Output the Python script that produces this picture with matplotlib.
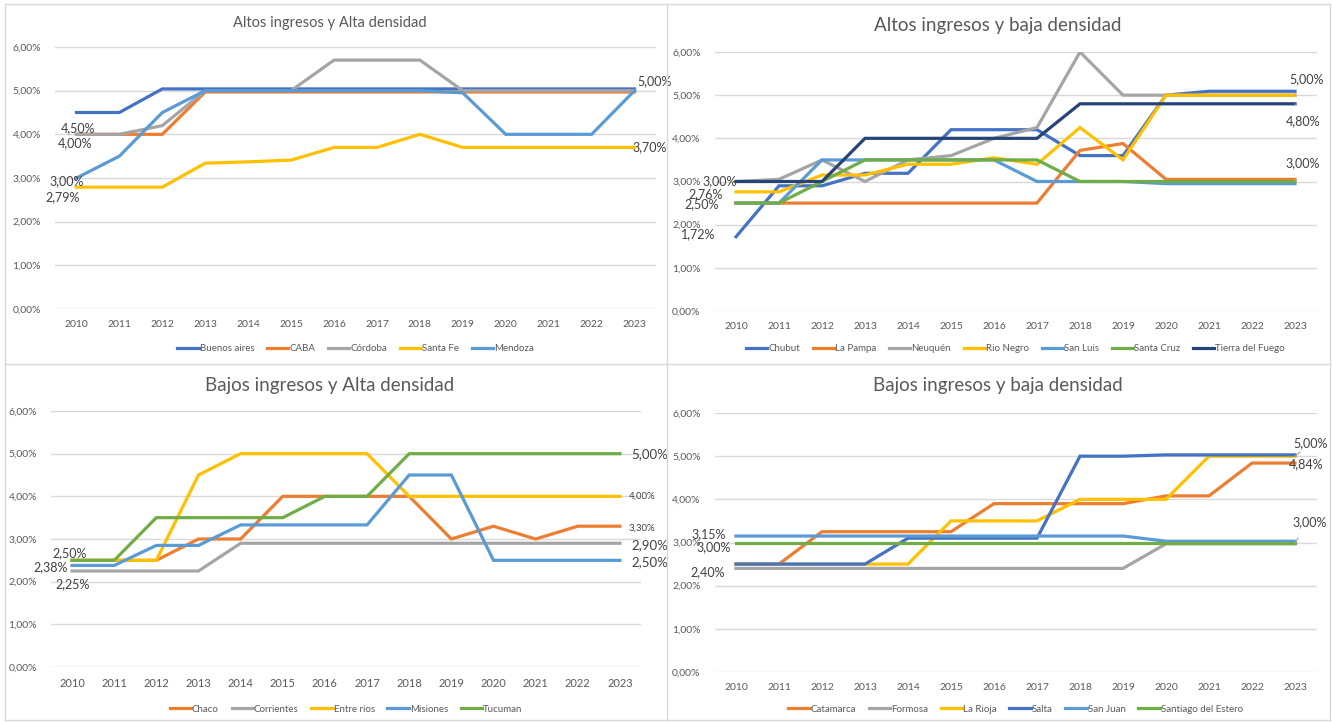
import numpy as np
import matplotlib
matplotlib.use('Agg')
import matplotlib.pyplot as plt
from matplotlib.lines import Line2D

plt.rcParams['font.family'] = ['Lato', 'DejaVu Sans']

years = [str(y) for y in range(2010, 2024)]
yticks = [0, 1, 2, 3, 4, 5, 6]

# --- Altos ingresos y Alta densidad
buenos_aires = [4.50, 4.50, 5.04, 5.04, 5.04, 5.04, 5.04, 5.04, 5.04, 5.04, 5.04, 5.04, 5.04, 5.04]
caba = [4.00, 4.00, 4.00, 4.97, 4.97, 4.97, 4.97, 4.97, 4.97, 4.97, 4.97, 4.97, 4.97, 4.97]
cordoba = [4.00, 4.00, 4.20, 5.00, 5.00, 5.00, 5.70, 5.70, 5.70, 5.00, 5.00, 5.00, 5.00, 5.00]
santa_fe = [2.79, 2.79, 2.79, 3.34, 3.37, 3.41, 3.70, 3.70, 4.00, 3.70, 3.70, 3.70, 3.70, 3.70]
mendoza = [3.00, 3.50, 4.50, 5.00, 5.00, 5.00, 5.00, 5.00, 5.00, 4.95, 4.00, 4.00, 4.00, 5.00]

# --- Altos ingresos y baja densidad
chubut = [1.72, 2.90, 2.90, 3.19, 3.19, 4.20, 4.20, 4.20, 3.60, 3.60, 5.00, 5.09, 5.09, 5.09]
la_pampa = [2.50, 2.50, 2.50, 2.50, 2.50, 2.50, 2.50, 2.50, 3.72, 3.88, 3.05, 3.05, 3.05, 3.05]
neuquen = [3.00, 3.05, 3.50, 3.00, 3.50, 3.60, 4.00, 4.25, 6.00, 5.00, 5.00, 5.00, 5.00, 5.00]
rio_negro = [2.76, 2.76, 3.15, 3.15, 3.40, 3.40, 3.55, 3.40, 4.25, 3.50, 5.00, 5.00, 5.00, 5.00]
san_luis = [2.50, 2.50, 3.50, 3.50, 3.50, 3.50, 3.50, 3.00, 3.00, 3.00, 2.95, 2.95, 2.95, 2.95]
santa_cruz = [2.50, 2.50, 3.00, 3.50, 3.50, 3.50, 3.50, 3.50, 3.00, 3.00, 3.00, 3.00, 3.00, 3.00]
tierra_fuego = [3.00, 3.00, 3.00, 4.00, 4.00, 4.00, 4.00, 4.00, 4.80, 4.80, 4.80, 4.80, 4.80, 4.80]

# --- Bajos ingresos y Alta densidad
chaco = [2.50, 2.50, 2.50, 3.00, 3.00, 4.00, 4.00, 4.00, 4.00, 3.00, 3.30, 3.00, 3.30, 3.30]
corrientes = [2.25, 2.25, 2.25, 2.25, 2.90, 2.90, 2.90, 2.90, 2.90, 2.90, 2.90, 2.90, 2.90, 2.90]
entre_rios = [2.50, 2.50, 2.50, 4.50, 5.00, 5.00, 5.00, 5.00, 4.00, 4.00, 4.00, 4.00, 4.00, 4.00]
misiones = [2.38, 2.38, 2.85, 2.85, 3.33, 3.33, 3.33, 3.33, 4.50, 4.50, 2.50, 2.50, 2.50, 2.50]
tucuman = [2.50, 2.50, 3.50, 3.50, 3.50, 3.50, 4.00, 4.00, 5.00, 5.00, 5.00, 5.00, 5.00, 5.00]

# --- Bajos ingresos y baja densidad
catamarca = [2.50, 2.50, 3.25, 3.25, 3.25, 3.25, 3.90, 3.90, 3.90, 3.90, 4.08, 4.08, 4.84, 4.84]
formosa = [2.40, 2.40, 2.40, 2.40, 2.40, 2.40, 2.40, 2.40, 2.40, 2.40, 2.97, 2.97, 2.97, 2.97]
la_rioja = [2.50, 2.50, 2.50, 2.50, 2.50, 3.50, 3.50, 3.50, 4.00, 4.00, 4.00, 5.00, 5.00, 5.00]
salta = [2.50, 2.50, 2.50, 2.50, 3.10, 3.10, 3.10, 3.10, 5.00, 5.00, 5.03, 5.03, 5.03, 5.03]
san_juan = [3.15, 3.15, 3.15, 3.15, 3.15, 3.15, 3.15, 3.15, 3.15, 3.15, 3.03, 3.03, 3.03, 3.03]
santiago = [3.00, 3.00, 3.00, 3.00, 3.00, 3.00, 3.00, 3.00, 3.00, 3.00, 3.00, 3.00, 3.00, 3.00]

BLUE, ORANGE, GRAY, GOLD = '#4472C4', '#ED7D31', '#A5A5A5', '#FFC000'
LBLUE, GREEN, NAVY = '#5B9BD5', '#70AD47', '#264478'
TXT = '#595959'
LBL = '#404040'

W, H = 1332, 722
fig = plt.figure(figsize=(W / 100, H / 100), dpi=100)


def px_axes(left, top, right, bottom):
    return fig.add_axes([left / W, 1 - bottom / H, (right - left) / W, (bottom - top) / H])


def pct(v):
    return f'{v:.2f}%'.replace('.', ',')


def panel(box, title, tsize, tpos, series, labels, legend_y, xsize=7.5):
    ax = px_axes(*box)
    x = np.arange(len(years))
    for name, vals, col in series:
        ax.plot(x, vals, color=col, lw=2.3, label=name, solid_joinstyle='miter')
    ax.set_xlim(-0.5, len(years) - 0.5)
    ax.set_ylim(0, 6)
    ax.set_yticks(yticks)
    ax.set_yticklabels([pct(v) for v in yticks])
    ax.set_xticks(x)
    ax.set_xticklabels(years)
    ax.tick_params(length=0, labelsize=7.5, colors=TXT, pad=8)
    ax.tick_params(axis='x', labelsize=xsize)
    ax.tick_params(axis='y', pad=10)
    ax.grid(axis='y', color='#D9D9D9', lw=1)
    ax.set_axisbelow(True)
    for s in ax.spines.values():
        s.set_visible(False)
    fig.text(tpos[0] / W, 1 - tpos[1] / H, title, fontsize=tsize, color=TXT,
             ha='center', va='center')
    for xi, val, dx, dy, fs, leader in labels:
        ax.annotate(pct(val), (xi, val), xytext=(dx, dy), textcoords='offset pixels',
                    fontsize=fs, color=LBL, ha='center', va='center',
                    annotation_clip=False,
                    arrowprops=dict(arrowstyle='-', color='#A6A6A6', lw=0.8,
                                    shrinkA=6, shrinkB=0) if leader else None)
    handles = [Line2D([0], [0], color=c, lw=2.3) for _, _, c in series]
    names = [n for n, _, _ in series]
    leg_y = (1 - legend_y / H)
    fig.legend(handles, names, loc='center', ncol=len(names),
               bbox_to_anchor=((box[0] + box[2]) / 2 / W, leg_y),
               frameon=False, fontsize=7, labelcolor=TXT, handlelength=2.2,
               handletextpad=0.1, columnspacing=1.3)
    return ax


panel((55, 47, 656, 309), 'Altos ingresos y Alta densidad', 10.5, (330, 23),
      [('Buenos aires', buenos_aires, BLUE), ('CABA', caba, ORANGE),
       ('Córdoba', cordoba, GRAY), ('Santa Fe', santa_fe, GOLD),
       ('Mendoza', mendoza, LBLUE)],
      [(0, buenos_aires[0], 2, -16, 9, False),
       (0, caba[0], -1, -9, 9, False),
       (0, mendoza[0], -10, -3, 9, False),
       (0, santa_fe[0], -14, -10, 9, False),
       (13, mendoza[13], 20, 10, 9, False),
       (13, santa_fe[13], 15, 0, 9, False)],
      349)

panel((714.5, 52, 1316.5, 311), 'Altos ingresos y baja densidad', 13.5, (998, 26),
      [('Chubut', chubut, BLUE), ('La Pampa', la_pampa, ORANGE),
       ('Neuquén', neuquen, GRAY), ('Rio Negro', rio_negro, GOLD),
       ('San Luis', san_luis, LBLUE), ('Santa Cruz', santa_cruz, GREEN),
       ('Tierra del Fuego', tierra_fuego, NAVY)],
      [(0, tierra_fuego[0], -16, 0, 9, False),
       (0, rio_negro[0], -30, -2, 9, False),
       (0, santa_cruz[0], -34, -1, 9, False),
       (0, chubut[0], -38, 3, 9, False),
       (13, 5.00, 12, 16, 9, True),
       (13, tierra_fuego[13], 8, -17, 9, True),
       (13, santa_cruz[13], 8, 18, 9, True)],
      349)

panel((51, 411, 641, 667), 'Bajos ingresos y Alta densidad', 13.5, (330, 386),
      [('Chaco', chaco, ORANGE), ('Corrientes', corrientes, GRAY),
       ('Entre rios', entre_rios, GOLD), ('Misiones', misiones, LBLUE),
       ('Tucuman', tucuman, GREEN)],
      [(0, tucuman[0], -2, 7, 9, False),
       (0, misiones[0], -21, -2, 9, False),
       (0, corrientes[0], 1, -13, 9, False),
       (13, tucuman[13], 30, 0, 9.5, False),
       (13, entre_rios[13], 22, 0, 7, False),
       (13, chaco[13], 22, -2, 7, False),
       (13, corrientes[13], 30, -2, 9.5, False),
       (13, misiones[13], 30, -2, 9.5, False)],
      709, xsize=8)

panel((714.5, 413, 1316.5, 672), 'Bajos ingresos y baja densidad', 13.5, (998, 386),
      [('Catamarca', catamarca, ORANGE), ('Formosa', formosa, GRAY),
       ('La Rioja', la_rioja, GOLD), ('Salta', salta, BLUE),
       ('San Juan', san_juan, LBLUE), ('Santiago del Estero', santiago, GREEN)],
      [(0, san_juan[0], -27, 2, 9, False),
       (0, santiago[0], -22, -5, 9, False),
       (0, formosa[0], -28, -4, 9, False),
       (13, 5.00, 16, 13, 9, True),
       (13, catamarca[13], 11, -1, 9, False),
       (13, santiago[13], 15, 20, 9, True)],
      709)

# panel borders
bc = '#D9D9D9'
for xs, ys in [((5, 1330), (4, 4)), ((5, 1330), (364, 364)), ((5, 1330), (720, 720)),
               ((5, 5), (4, 720)), ((667, 667), (4, 720)), ((1330, 1330), (4, 720))]:
    fig.add_artist(Line2D([x / W for x in xs], [1 - y / H for y in ys], color=bc, lw=1))

fig.savefig('out.png', dpi=100, facecolor='white')
